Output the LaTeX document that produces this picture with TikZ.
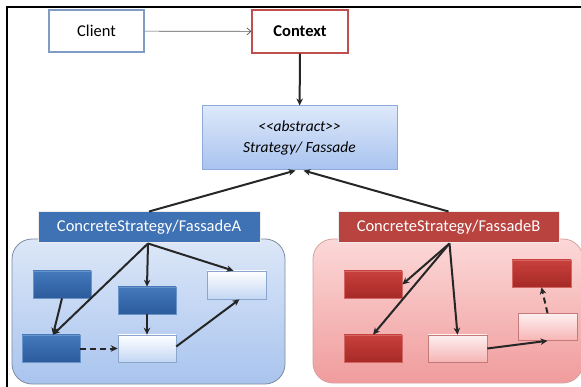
\documentclass[tikz,border=0pt]{standalone}
\usepackage{fontspec}
\setmainfont{Carlito}
\usetikzlibrary{arrows.meta,calc}
\definecolor{cliblue}{HTML}{7F9CC4}
\definecolor{ctxred}{HTML}{C0504D}
\definecolor{darkblueT}{HTML}{4479BC}
\definecolor{darkblueB}{HTML}{2C5C9C}
\definecolor{lblA}{HTML}{3F72B5}
\definecolor{contAT}{HTML}{DCE7F8}
\definecolor{contAB}{HTML}{A9C4EE}
\definecolor{lightAB}{HTML}{C3D7F4}
\definecolor{lightAline}{HTML}{8AA6CF}
\definecolor{stratT}{HTML}{DDE8FA}
\definecolor{stratB}{HTML}{A9C3EF}
\definecolor{stratLine}{HTML}{8EAADB}
\definecolor{contBT}{HTML}{FCD8D8}
\definecolor{contBB}{HTML}{F09C9C}
\definecolor{lblB}{HTML}{B8433F}
\definecolor{darkredT}{HTML}{C8403C}
\definecolor{darkredB}{HTML}{A62A27}
\definecolor{lightBB}{HTML}{F7B4B4}
\definecolor{lightBline}{HTML}{C67A78}
\tikzset{
  plainbox/.style={rectangle, line width=1.2pt, fill=white, font=\fontsize{16.5}{18}\selectfont, inner sep=0pt},
  container/.style={rectangle, rounded corners=20pt, line width=0.8pt, inner sep=0pt},
  labelbox/.style={rectangle, draw=white!85!gray, line width=1pt, text=white, font=\fontsize{16.5}{18}\selectfont, inner sep=0pt, minimum width=222, minimum height=31},
  darkA/.style={rectangle, draw=darkblueT!80!white, line width=0.6pt, top color=darkblueT, bottom color=darkblueB, minimum width=58, minimum height=27, inner sep=0pt},
  lightA/.style={rectangle, draw=lightAline, line width=0.6pt, top color=white, bottom color=lightAB, minimum width=58, minimum height=27, inner sep=0pt},
  darkB/.style={rectangle, draw=darkredT!80!white, line width=0.6pt, top color=darkredT, bottom color=darkredB, minimum width=58, minimum height=27, inner sep=0pt},
  lightB/.style={rectangle, draw=lightBline, line width=0.6pt, top color=white!80!lightBB, bottom color=lightBB, minimum width=59, minimum height=27, inner sep=0pt},
  arr/.style={-{Stealth[length=7pt,width=6.5pt]}, line width=2pt, black!85},
  darr/.style={arr, dash pattern=on 6pt off 4pt},
  thinarr/.style={-{Straight Barb[length=4pt,width=7pt]}, line width=0.7pt, black!65},
}
\begin{document}
\begin{tikzpicture}[x=1pt,y=-1pt]
\useasboundingbox (0,0) rectangle (581,387);
\fill[white] (0,0) rectangle (581,387);
% frame
\draw[line width=1.3pt] (7,387) -- (7,7) -- (581,7);

% top nodes
\node[plainbox, draw=cliblue, minimum width=95, minimum height=42] (client) at (96.5,31) {Client};
\node[plainbox, draw=ctxred, minimum width=96, minimum height=43, font=\fontsize{16.5}{18}\selectfont\bfseries] (context) at (300,31.5) {Context};
\node[rectangle, draw=stratLine, line width=1pt, top color=stratT, bottom color=stratB, minimum width=195, minimum height=64, inner sep=0pt, align=center, font=\fontsize{15.5}{21}\selectfont\itshape] (strategy) at (299.5,138) {<{}<abstract>{}>\\Strategy/ Fassade};

\draw[thinarr] (client) -- (context);
\draw[arr] (context) -- (strategy);

% containers
\node[container, draw=gray!55!cliblue, top color=contAT, bottom color=contAB, minimum width=273, minimum height=145] (contA) at (148.5,311.5) {};
\node[container, draw=lightBline!70!white, top color=contBT, bottom color=contBB, minimum width=270, minimum height=144] (contB) at (448,311) {};

% labels
\node[labelbox, fill=lblA] (labA) at (149,227.5) {ConcreteStrategy/FassadeA};
\node[labelbox, fill=lblB, minimum width=221] (labB) at (448.5,227.5) {ConcreteStrategy/FassadeB};

\draw[arr] (labA.north) -- ($(strategy.south)+(-4,0)$);
\draw[arr] (labB.north) -- ($(strategy.south)+(4,0)$);

% A inner
\node[darkA] (a1) at (62,284.5) {};
\node[darkA] (a2) at (147,300.5) {};
\node[lightA, minimum width=59, minimum height=28] (a3) at (236.5,285) {};
\node[darkA] (a4) at (51,348.5) {};
\node[lightA] (a5) at (147,348.5) {};

\coordinate (oA) at ($(labA.south)+(-1,0)$);
\draw[arr] (oA) -- ($(a4.north)+(2,0)$);
\draw[arr] (oA) -- (a2.north);
\draw[arr] (oA) -- ($(a3.north)+(-3,0)$);
\draw[arr] (a1.south) -- ($(a4.north)+(2,0)$);
\draw[arr] (a2.south) -- (a5.north);
\draw[darr] (a4.east) -- (a5.west);
\draw[arr] ($(a5.east)+(0,-2)$) -- ($(a3.south)+(3,0)$);

% B inner
\node[darkB] (b1) at (373,284.5) {};
\node[darkB, minimum width=59] (b2) at (541.5,273.5) {};
\node[darkB] (b3) at (373,348.5) {};
\node[lightB] (b4) at (457.5,348.5) {};
\node[lightB] (b5) at (547.5,327) {};

\coordinate (oB) at ($(labB.south)+(1,0)$);
\draw[arr] (oB) -- (b1.east);
\draw[arr] (oB) -- (b3.north);
\draw[arr] (oB) -- (b4.north);
\draw[arr] (b4.east) -- (b5.south);
\draw[darr] (b5.north) -- (b2.south);
\end{tikzpicture}
\end{document}
